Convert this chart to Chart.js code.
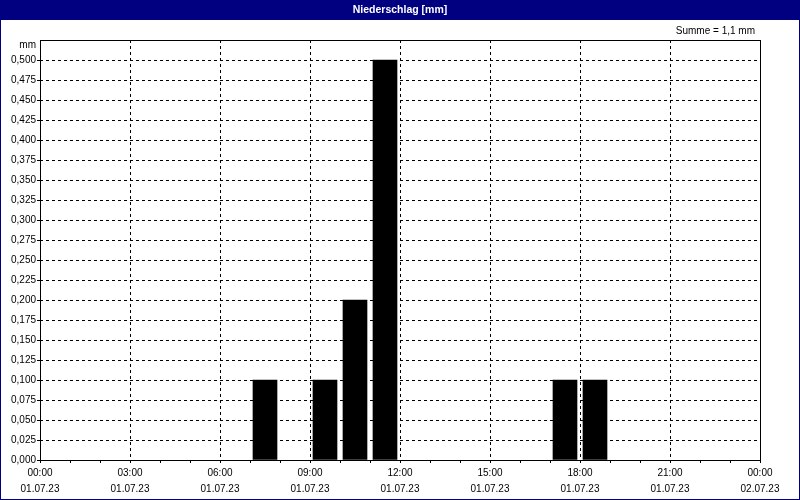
<!DOCTYPE html>
<html>
<head>
<meta charset="utf-8">
<script src="https://cdn.jsdelivr.net/npm/chart.js@4"></script>
<style>
  html, body { margin: 0; padding: 0; background: #fff; }
  canvas { display: block; }
</style>
</head>
<body>
<canvas id="rain-chart" width="800" height="500"></canvas>
<script>
// Data
const rainHours = [7, 9, 10, 11, 17, 18];          // hour the bar starts
const rainValues = [0.1, 0.1, 0.2, 0.5, 0.1, 0.1]; // mm per hour
const timeLabels = ['00:00', '03:00', '06:00', '09:00', '12:00', '15:00', '18:00', '21:00', '00:00'];
const dateLabels = ['01.07.23', '01.07.23', '01.07.23', '01.07.23', '01.07.23', '01.07.23', '01.07.23', '01.07.23', '02.07.23'];

const titleText = 'Niederschlag [mm]';
const unitText = 'mm';
const total = rainValues.reduce((a, b) => a + b, 0);
const sumText = 'Summe = ' + total.toFixed(1).replace('.', ',') + ' mm';

const NAVY = '#000080';

Chart.defaults.font.family = '"Liberation Sans", Arial, sans-serif';
Chart.defaults.font.size = 10;
Chart.defaults.color = '#000';

// Frame, title bar and extra texts
const framePlugin = {
  id: 'frame',
  beforeDraw(chart) {
    const ctx = chart.ctx;
    ctx.save();
    ctx.fillStyle = '#fff';
    ctx.fillRect(0, 0, chart.width, chart.height);
    ctx.fillStyle = NAVY;
    ctx.fillRect(0, 0, chart.width, 20);
    ctx.strokeStyle = NAVY;
    ctx.lineWidth = 1;
    ctx.strokeRect(0.5, 0.5, chart.width - 1, chart.height - 1);

    ctx.fillStyle = '#fff';
    ctx.font = 'bold 10.5px "Liberation Sans", Arial, sans-serif';
    ctx.textAlign = 'center';
    ctx.textBaseline = 'middle';
    ctx.fillText(titleText, chart.width / 2, 10);

    ctx.fillStyle = '#000';
    ctx.font = '10px "Liberation Sans", Arial, sans-serif';
    ctx.textAlign = 'right';
    ctx.fillText(sumText, 755, 31);
    ctx.fillText(unitText, 36, 45);
    ctx.restore();
  },
  afterDraw(chart) {
    const a = chart.chartArea;
    const ctx = chart.ctx;
    ctx.save();
    ctx.strokeStyle = '#000';
    ctx.lineWidth = 1;
    ctx.strokeRect(Math.round(a.left) + 0.5, Math.round(a.top) + 0.5,
      Math.round(a.right - a.left), Math.round(a.bottom - a.top));
    ctx.restore();
  }
};

new Chart(document.getElementById('rain-chart'), {
  type: 'bar',
  data: {
    datasets: [{
      data: rainHours.map((h, i) => ({ x: h + 0.5, y: rainValues[i] })),
      backgroundColor: '#000',
      borderWidth: 0,
      barThickness: 24
    }]
  },
  options: {
    responsive: false,
    animation: false,
    devicePixelRatio: 1,
    layout: { padding: { top: 40, right: 40, left: 0, bottom: 0 } },
    plugins: {
      legend: { display: false },
      title: { display: false },
      tooltip: { enabled: false }
    },
    scales: {
      x: {
        type: 'linear',
        min: 0,
        max: 24,
        offset: false,
        afterFit: s => { s.height = 40; },
        ticks: {
          stepSize: 1,
          autoSkip: false,
          maxRotation: 0,
          padding: 2,
          font: { size: 10, lineHeight: 1.6 },
          callback: v => v % 3 === 0 ? [timeLabels[v / 3], dateLabels[v / 3]] : ''
        },
        grid: {
          offset: false,
          color: c => (c.tick && c.tick.value % 3 === 0 && c.tick.value > 0 && c.tick.value < 24) ? '#000' : 'rgba(0,0,0,0)',
          tickColor: '#000',
          tickLength: 3,
          tickBorderDash: []
        },
        border: { display: false, dash: [3, 3] }
      },
      y: {
        min: 0,
        max: 0.525,
        afterFit: s => { s.width = 40; },
        ticks: {
          stepSize: 0.025,
          padding: 1,
          callback: v => v > 0.51 ? '' : v.toFixed(3).replace('.', ',')
        },
        grid: {
          color: c => (c.tick && c.tick.value > 0.001 && c.tick.value < 0.51) ? '#000' : 'rgba(0,0,0,0)',
          tickColor: c => (c.tick && c.tick.value < 0.51) ? '#000' : 'rgba(0,0,0,0)',
          tickLength: 3,
          tickBorderDash: []
        },
        border: { display: false, dash: [3, 3] }
      }
    }
  },
  plugins: [framePlugin]
});
</script>
</body>
</html>
